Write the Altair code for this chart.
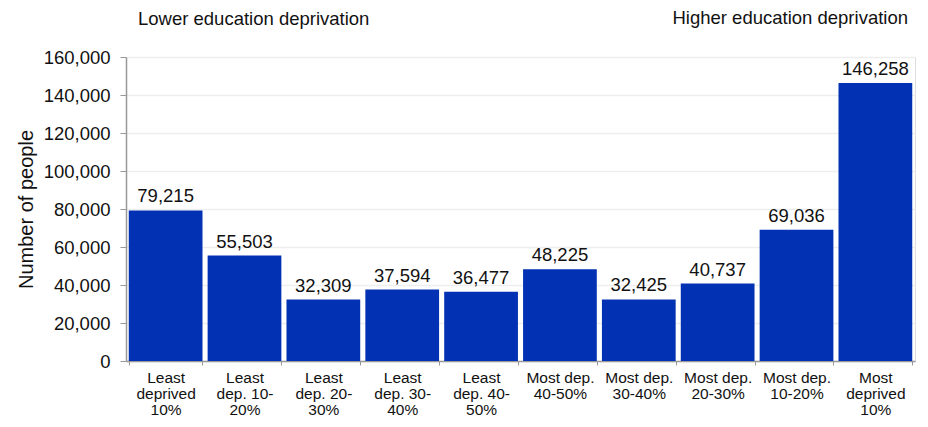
import altair as alt
import pandas as pd

categories = [
    "Least|deprived|10%",
    "Least|dep. 10-|20%",
    "Least|dep. 20-|30%",
    "Least|dep. 30-|40%",
    "Least|dep. 40-|50%",
    "Most dep.|40-50%",
    "Most dep.|30-40%",
    "Most dep.|20-30%",
    "Most dep.|10-20%",
    "Most|deprived|10%",
]
values = [79215, 55503, 32309, 37594, 36477, 48225, 32425, 40737, 69036, 146258]
y_ticks = [0, 20000, 40000, 60000, 80000, 100000, 120000, 140000, 160000]
left_note = "Lower education deprivation"
right_note = "Higher education deprivation"

df = pd.DataFrame({"cat": categories, "value": values})

FONT = "Liberation Sans"
BAR = "#0331B3"

x_enc = alt.X(
    "cat:N",
    sort=categories,
    scale=alt.Scale(paddingInner=0.065, paddingOuter=0.035),
    axis=alt.Axis(
        title=None,
        labelAngle=0,
        labelExpr="isValid(datum.value) ? split(datum.value, '|') : ''",
        labelFont=FONT,
        labelFontSize=15.5,
        labelLineHeight=16,
        labelColor="#111111",
        labelPadding=5,
        tickBand="extent",
        tickSize=4,
        tickColor="#999999",
        domainColor="#999999",
        domainWidth=1.5,
        grid=False,
    ),
)

y_enc = alt.Y(
    "value:Q",
    scale=alt.Scale(domain=[0, 160000]),
    axis=alt.Axis(
        title="Number of people",
        titleFont=FONT,
        titleFontSize=20,
        titleFontWeight="normal",
        titleColor="#111111",
        titlePadding=7,
        values=y_ticks,
        format=",d",
        labelFont=FONT,
        labelFontSize=18.5,
        labelColor="#111111",
        labelPadding=10,
        labelOverlap=False,
        tickSize=6,
        tickColor="#999999",
        domainColor="#999999",
        domainWidth=1.5,
        gridColor="#eeeeee",
        gridWidth=1.5,
    ),
)

base = alt.Chart(df)

bars = base.mark_bar(color=BAR).encode(x=x_enc, y=y_enc)

labels = base.mark_text(
    font=FONT, fontSize=18.5, color="#111111", baseline="bottom", dy=-4
).encode(
    x=x_enc,
    y=y_enc,
    text=alt.Text("value:Q", format=","),
)

notes = pd.DataFrame({"note": [left_note]})
left_txt = alt.Chart(notes).mark_text(
    font=FONT, fontSize=18.5, color="#111111", align="left", baseline="middle"
).encode(x=alt.value(12), y=alt.value(-38), text="note:N")

notes2 = pd.DataFrame({"note": [right_note]})
right_txt = alt.Chart(notes2).mark_text(
    font=FONT, fontSize=18.5, color="#111111", align="right", baseline="middle"
).encode(x=alt.value(782), y=alt.value(-39.5), text="note:N")

chart = (
    alt.layer(bars, labels, left_txt, right_txt)
    .properties(
        width=789,
        height=304,
        autosize=alt.AutoSizeParams(type="none"),
        padding={"left": 118, "top": 49, "right": 5, "bottom": 58},
    )
    .configure_view(stroke=None)
    .configure(background="white")
)

chart.save("out.html", embed_options={"renderer": "svg", "actions": False})
